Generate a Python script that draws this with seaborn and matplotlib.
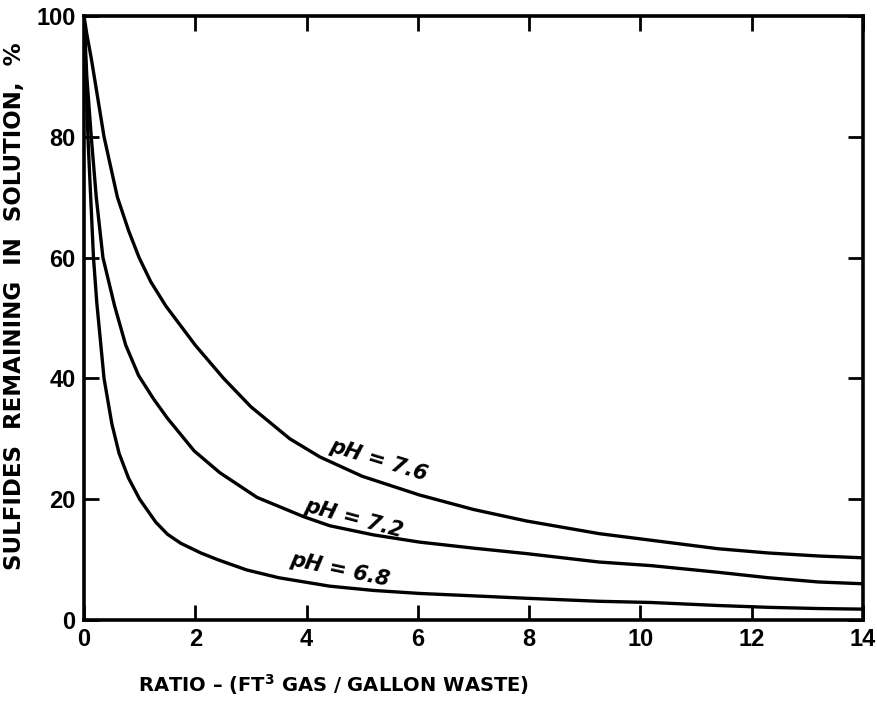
import numpy as np
import pandas as pd
import matplotlib
matplotlib.use("Agg")
import matplotlib.pyplot as plt
import seaborn as sns

# Gas-to-waste ratio (ft3 gas / gallon waste) and sulfides remaining (%)
ratio_76 = [0, 0.05, 0.13, 0.21, 0.36, 0.6, 0.8, 0.99, 1.2, 1.47, 2.0, 2.51, 3.0,
            3.7, 4.24, 5.0, 6.03, 7.0, 7.95, 9.26, 10.2, 11.4, 12.3, 13.2, 14]
sulf_76 = [100, 97, 93, 88.5, 80, 70, 64.5, 60, 56, 52, 45.5, 40, 35.3,
           30, 27, 23.8, 20.7, 18.3, 16.4, 14.3, 13.2, 11.8, 11.1, 10.6, 10.3]

ratio_72 = [0, 0.05, 0.13, 0.22, 0.34, 0.55, 0.75, 0.98, 1.25, 1.5, 1.98, 2.44,
            3.11, 3.95, 4.42, 5.2, 6.03, 7.0, 7.95, 9.26, 10.2, 11.4, 12.3, 13.2, 14]
sulf_72 = [100, 90, 80, 70, 60, 52, 45.5, 40.5, 36.6, 33.4, 28, 24.4,
           20.3, 17.1, 15.6, 14.1, 12.9, 11.9, 11.0, 9.6, 9.0, 7.9, 7.0, 6.3, 6.0]

ratio_68 = [0, 0.07, 0.17, 0.23, 0.36, 0.5, 0.63, 0.8, 1.0, 1.29, 1.5, 1.74, 2.1,
            2.4, 2.92, 3.5, 4.42, 5.2, 6.03, 7.0, 7.95, 9.26, 10.2, 11.4, 12.3, 13.2, 14]
sulf_68 = [100, 80, 60, 52.5, 40, 32.5, 27.6, 23.5, 20, 16.2, 14.2, 12.7, 11.1,
           10.0, 8.3, 7.0, 5.6, 4.9, 4.4, 4.0, 3.6, 3.1, 2.9, 2.4, 2.1, 1.9, 1.8]

curve_labels = ["pH = 7.6", "pH = 7.2", "pH = 6.8"]
x_ticks = [0, 2, 4, 6, 8, 10, 12, 14]
y_ticks = [0, 20, 40, 60, 80, 100]

df = pd.concat([
    pd.DataFrame({"ratio": ratio_76, "sulfides": sulf_76, "curve": curve_labels[0]}),
    pd.DataFrame({"ratio": ratio_72, "sulfides": sulf_72, "curve": curve_labels[1]}),
    pd.DataFrame({"ratio": ratio_68, "sulfides": sulf_68, "curve": curve_labels[2]}),
])

sns.set_theme(style="white")
plt.rcParams["font.family"] = ["DejaVu Sans"]
plt.rcParams["text.color"] = "black"
plt.rcParams["axes.labelcolor"] = "black"
plt.rcParams["xtick.color"] = "black"
plt.rcParams["ytick.color"] = "black"
plt.rcParams["mathtext.fontset"] = "custom"
plt.rcParams["mathtext.rm"] = "DejaVu Sans:bold"
plt.rcParams["mathtext.default"] = "rm"

fig = plt.figure(figsize=(8.77, 7.04), dpi=100)
ax = fig.add_axes([0.0958, 0.1193, 0.888, 0.858])

sns.lineplot(data=df, x="ratio", y="sulfides", hue="curve", sort=False,
             palette=["black"] * 3, linewidth=2.4, legend=False, ax=ax)

ax.set_xlim(0, 14)
ax.set_ylim(0, 100)
ax.set_xticks(x_ticks)
ax.set_yticks(y_ticks)
tick_font = dict(fontsize=17, fontweight="bold", family="Liberation Sans")
ax.set_xticklabels([str(v) for v in x_ticks], **tick_font)
ax.set_yticklabels([str(v) for v in y_ticks], **tick_font)
ax.tick_params(direction="in", length=11, width=2.0, color="black",
               top=True, right=True, bottom=True, left=True, pad=6)
for s in ax.spines.values():
    s.set_visible(True)
    s.set_color("black")
    s.set_linewidth(2.6)

ax.set_xlabel("")
ax.set_ylabel("SULFIDES  REMAINING  IN  SOLUTION,  %", fontsize=16.5,
              fontweight="bold")
ax.yaxis.set_label_coords(-0.074, 0.52)

fig.text(0.157, 0.028, r"RATIO – (FT$^{3}$ GAS / GALLON WASTE)", fontsize=14,
         fontweight="bold", ha="left", va="center")

# Curve annotations, tilted along each line
label_pos = [(5.3, 26.5, -17), (4.85, 16.8, -15), (4.6, 8.3, -12)]
for text, (lx, ly, rot) in zip(curve_labels, label_pos):
    ax.text(lx, ly, text, fontsize=15, fontweight="bold", fontstyle="italic",
            rotation=rot, ha="center", va="center", rotation_mode="anchor")

fig.savefig("out.png", dpi=100, facecolor="white")
